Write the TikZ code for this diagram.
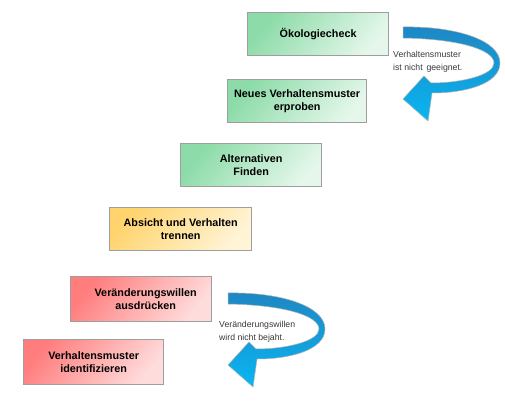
\documentclass[tikz,border=0pt]{standalone}
\usepackage{fontspec}
\setmainfont{Liberation Sans}
\begin{document}
\begin{tikzpicture}[x=1pt,y=-1pt,
  stepbox/.style={draw=black!38, line width=1.3pt, minimum width=141pt, minimum height=43pt,
    inner sep=0pt, anchor=north west, align=center,
    font=\fontsize{10.8}{13}\selectfont\bfseries},
  greenbox/.style={stepbox, top color={rgb,255:red,140;green,219;blue,168}, bottom color={rgb,255:red,228;green,247;blue,234}, shading angle=50},
  orangebox/.style={stepbox, top color={rgb,255:red,255;green,212;blue,110}, bottom color={rgb,255:red,255;green,244;blue,214}, shading angle=50},
  redbox/.style={stepbox, top color={rgb,255:red,255;green,125;blue,125}, bottom color={rgb,255:red,255;green,220;blue,220}, shading angle=50},
  note/.style={inner sep=0pt, anchor=north west, align=left, text=black!78,
    font=\fontsize{8.7}{13}\selectfont},
  ribbon/.style={draw=black!30, line width=0.5pt,
    top color={rgb,255:red,30;green,135;blue,195}, bottom color={rgb,255:red,8;green,182;blue,242}}
]
\useasboundingbox (0,0) rectangle (505,403);

\node[greenbox]  (b1) at (247,12)  {Ökologiecheck};
\node[greenbox, minimum width=139pt]  (b2) at (227,79)  {Neues Verhaltensmuster\\erproben};
\node[greenbox]  (b3) at (180,143) {Alternativen\\Finden};
\node[orangebox, minimum width=142pt] (b4) at (109,207) {Absicht und Verhalten\\trennen};
\node[redbox, minimum height=45pt]    (b5) at (70,276)  {\hspace*{9pt}Veränderungswillen\\\hspace*{9pt}ausdrücken};
\node[redbox, minimum height=45pt, minimum width=140pt] (b6) at (23,339)  {Verhaltensmuster\\identifizieren};

% top U-turn arrow
\path[ribbon] (403,27) .. controls (455,26) and (500,40) .. (500,63)
  .. controls (500,84) and (465,93) .. (432,93)
  -- (428,121) -- (403,99) -- (424,76) -- (431,83)
  .. controls (462,83) and (494,75) .. (494,63)
  .. controls (494,50) and (460,39) .. (403,38) -- cycle;
\node[note] (n1) at (393,51) {Verhaltensmuster\\ist nicht\, geeignet.};

% bottom U-turn arrow
\begin{scope}[shift={(-175,266)}]
\path[ribbon] (403,27) .. controls (455,26) and (500,40) .. (500,63)
  .. controls (500,84) and (465,93) .. (432,93)
  -- (428,121) -- (403,99) -- (424,76) -- (431,83)
  .. controls (462,83) and (494,75) .. (494,63)
  .. controls (494,50) and (460,39) .. (403,38) -- cycle;
\end{scope}
\node[note] (n2) at (219,321) {Veränderungswillen\\wird nicht bejaht.};
\end{tikzpicture}
\end{document}
